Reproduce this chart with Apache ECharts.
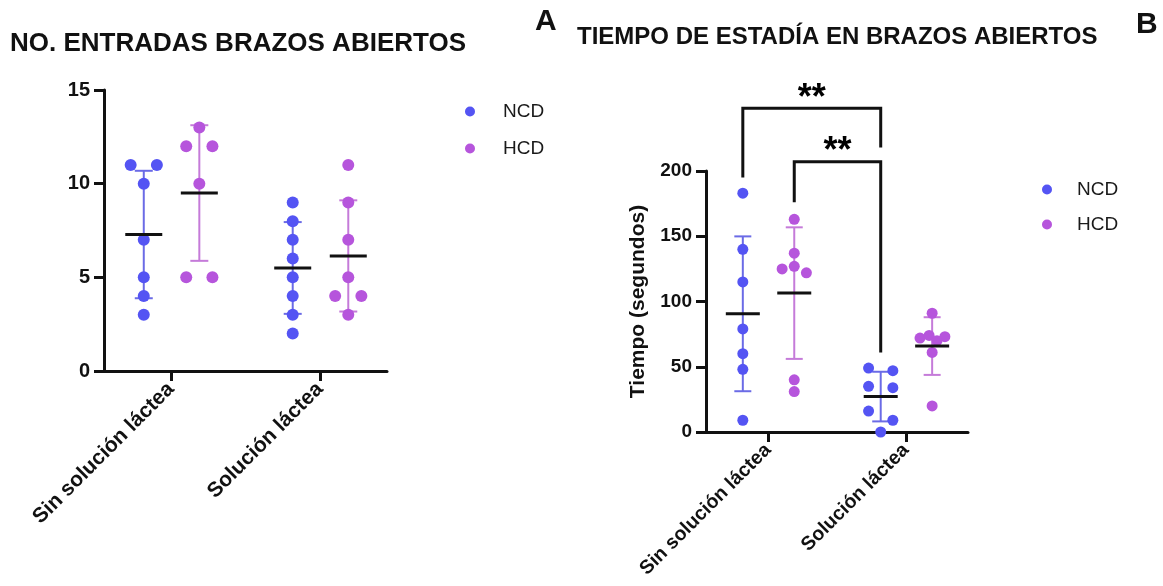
<!DOCTYPE html>
<html>
<head>
<meta charset="utf-8">
<script src="https://cdn.jsdelivr.net/npm/echarts@6/dist/echarts.min.js"></script>
<style>
  html, body { margin: 0; background: #fff; }
  #chart { width: 1163px; height: 586px; }
</style>
</head>
<body>
<div id="chart"></div>
<script>
// ---- data ----
const categories = ['Sin solución láctea', 'Solución láctea']
const groupNames = ['NCD', 'HCD']
const titleA = 'NO. ENTRADAS BRAZOS ABIERTOS'
const titleB = 'TIEMPO DE ESTADÍA EN BRAZOS ABIERTOS'
const yNameB = 'Tiempo (segundos)'
const yTicksA = [0, 5, 10, 15]
const yTicksB = [0, 50, 100, 150, 200]

// one inner array per category
const entradasNCD = [[11, 11, 10, 7, 5, 4, 3], [9, 8, 7, 6, 5, 4, 3, 2]]
const entradasHCD = [[13, 12, 12, 10, 5, 5], [11, 9, 7, 5, 4, 4, 3]]
const tiempoNCD = [[183, 140, 115, 79, 60, 48, 9], [49, 47, 35, 34, 16, 9, 0]]
const tiempoHCD = [[163, 137, 127, 125, 122, 40, 31], [91, 72, 74, 73, 70, 61, 20]]

// significance brackets in panel B: [category, group] -> [category, group]
const sigLabels = ['**', '**']
const sigFrom = [[0, 0], [0, 1]]
const sigTo = [[1, 0], [1, 0]]

// ---- layout only ----
const FONT = 'Liberation Sans, Arial, sans-serif'
const groupOffset = [-0.183, 0.19]
const jitterStep = 0.088
const jitterA = {
  NCD: [[-1, 1, 0, 0, 0, 0, 0], [0, 0, 0, 0, 0, 0, 0, 0]],
  HCD: [[0, -1, 1, 0, -1, 1], [0, 0, 0, 0, -1, 1, 0]]
}
const jitterB = {
  NCD: [[0, 0, 0, 0, 0, 0, 0], [-1, 1, -1, 1, -1, 1, 0]],
  HCD: [[0, 0, 0, -1, 1, 0, 0], [0, -1, -0.25, 1.05, 0.4, 0, 0]]
}
const bracketTop = [248, 207]
const bracketFootFrom = [195, 176]
const bracketFootTo = [218, 61]

const dotColors = ['#5454f3', '#b655dc']
const barColors = ['#6b6be6', '#c57bd9']

const mean = (a) => a.reduce((s, v) => s + v, 0) / a.length
const sd = (a) => {
  const m = mean(a)
  return Math.sqrt(a.reduce((s, v) => s + (v - m) * (v - m), 0) / (a.length - 1))
}

function panelSeries (axisIndex, ncd, hcd, jitter, symbolSize, meanHalf, capHalf) {
  const sets = [ncd, hcd]
  const bars = []
  const means = []
  const series = []
  sets.forEach((byCat, g) => {
    byCat.forEach((vals, c) => {
      const x = c + groupOffset[g]
      const m = mean(vals)
      const s = sd(vals)
      bars.push([x, m - s, m + s, g])
      means.push([x, m])
    })
  })

  series.push({
    type: 'custom',
    name: 'sd' + axisIndex,
    xAxisIndex: axisIndex,
    yAxisIndex: axisIndex,
    z: 1,
    silent: true,
    data: bars,
    encode: { x: 0, y: [1, 2] },
    renderItem: (params, api) => {
      const lo = api.coord([api.value(0), api.value(1)])
      const hi = api.coord([api.value(0), api.value(2)])
      const st = { stroke: barColors[api.value(3)], lineWidth: 2 }
      return {
        type: 'group',
        children: [
          { type: 'line', shape: { x1: lo[0], y1: lo[1], x2: hi[0], y2: hi[1] }, style: st },
          { type: 'line', shape: { x1: hi[0] - capHalf, y1: hi[1], x2: hi[0] + capHalf, y2: hi[1] }, style: st },
          { type: 'line', shape: { x1: lo[0] - capHalf, y1: lo[1], x2: lo[0] + capHalf, y2: lo[1] }, style: st }
        ]
      }
    }
  })

  sets.forEach((byCat, g) => {
    const jit = jitter[groupNames[g]]
    const pts = []
    byCat.forEach((vals, c) => {
      vals.forEach((v, i) => {
        pts.push([c + groupOffset[g] + jit[c][i] * jitterStep, v])
      })
    })
    series.push({
      type: 'scatter',
      name: groupNames[g],
      xAxisIndex: axisIndex,
      yAxisIndex: axisIndex,
      z: 2,
      symbolSize,
      itemStyle: { color: dotColors[g], opacity: 1 },
      data: pts
    })
  })

  series.push({
    type: 'custom',
    name: 'mean' + axisIndex,
    xAxisIndex: axisIndex,
    yAxisIndex: axisIndex,
    z: 3,
    silent: true,
    data: means,
    renderItem: (params, api) => {
      const p = api.coord([api.value(0), api.value(1)])
      return {
        type: 'line',
        shape: { x1: p[0] - meanHalf, y1: p[1], x2: p[0] + meanHalf, y2: p[1] },
        style: { stroke: '#111', lineWidth: 3 }
      }
    }
  })
  return series
}

function bracketSeries () {
  const series = []
  sigLabels.forEach((lab, k) => {
    const x1 = sigFrom[k][0] + groupOffset[sigFrom[k][1]]
    const x2 = sigTo[k][0] + groupOffset[sigTo[k][1]]
    series.push({
      type: 'line',
      name: 'sig' + k,
      xAxisIndex: 1,
      yAxisIndex: 1,
      clip: false,
      silent: true,
      symbol: 'none',
      z: 4,
      lineStyle: { color: '#111', width: 3, join: 'miter' },
      data: [[x1, bracketFootFrom[k]], [x1, bracketTop[k]], [x2, bracketTop[k]], [x2, bracketFootTo[k]]]
    })
    series.push({
      type: 'scatter',
      name: 'star' + k,
      xAxisIndex: 1,
      yAxisIndex: 1,
      clip: false,
      silent: true,
      symbolSize: 1,
      z: 5,
      itemStyle: { color: 'rgba(0,0,0,0)' },
      label: {
        show: true,
        position: 'top',
        distance: -9,
        formatter: lab,
        fontFamily: FONT,
        fontWeight: 'bold',
        fontSize: 36,
        color: '#000',
        opacity: 1,
        textBorderWidth: 0
      },
      labelLayout: { hideOverlap: false },
      data: [[(x1 + x2) / 2, bracketTop[k]]]
    })
  })
  return series
}

function xAxisOpt (gridIndex, fontSize) {
  return {
    type: 'value',
    gridIndex,
    min: -0.45,
    max: 1.45,
    splitLine: { show: false },
    axisLine: { onZero: false, lineStyle: { color: '#111', width: 3 } },
    axisTick: { customValues: [0, 1], length: 10, lineStyle: { color: '#111', width: 3 } },
    axisLabel: {
      customValues: [0, 1],
      formatter: (v) => categories[Math.round(v)],
      rotate: 45,
      margin: 15,
      fontFamily: FONT,
      fontWeight: 'bold',
      fontSize,
      color: '#111'
    }
  }
}

function yAxisOpt (gridIndex, ticks, fontSize) {
  return {
    type: 'value',
    gridIndex,
    min: ticks[0],
    max: ticks[ticks.length - 1],
    interval: ticks[1] - ticks[0],
    splitLine: { show: false },
    axisLine: { show: true, onZero: false, lineStyle: { color: '#111', width: 3 } },
    axisTick: { show: true, length: 10, lineStyle: { color: '#111', width: 3 } },
    axisLabel: { margin: 14, fontFamily: FONT, fontWeight: 'bold', fontSize, color: '#111' }
  }
}

const chart = echarts.init(document.getElementById('chart'))

const titleStyle = (size) => ({ fontFamily: FONT, fontWeight: 'bold', fontSize: size, color: '#111' })

const legendOpt = (left, top, gap, pad) => ({
  orient: 'vertical',
  left,
  top,
  icon: 'circle',
  itemWidth: 10,
  itemHeight: 10,
  itemGap: gap,
  data: groupNames,
  textStyle: { fontFamily: FONT, fontSize: 19, color: '#1a1a1a', lineHeight: 19, padding: [0, 0, 0, pad] }
})

const yB = yAxisOpt(1, yTicksB, 19)
yB.name = yNameB
yB.nameLocation = 'middle'
yB.nameRotate = 90
yB.nameGap = 57
yB.nameTextStyle = { fontFamily: FONT, fontWeight: 'bold', fontSize: 21, color: '#111' }

chart.setOption({
  backgroundColor: '#fff',
  animation: false,
  title: [
    { text: titleA, left: 10, top: 31, padding: 0, textStyle: titleStyle(26) },
    { text: 'A', left: 535, top: 7, padding: 0, textStyle: titleStyle(30) },
    { text: titleB, left: 577, top: 25, padding: 0, textStyle: titleStyle(24) },
    { text: 'B', left: 1136, top: 10, padding: 0, textStyle: titleStyle(30) }
  ],
  legend: [legendOpt(460, 97, 18, 23), legendOpt(1037, 175, 16, 20)],
  grid: [
    { left: 104, right: 776, top: 90, bottom: 215 },
    { left: 706, right: 195, top: 171, bottom: 154 }
  ],
  xAxis: [xAxisOpt(0, 21), xAxisOpt(1, 19.5)],
  yAxis: [yAxisOpt(0, yTicksA, 20), yB],
  series: [
    ...panelSeries(0, entradasNCD, entradasHCD, jitterA, 12, 18.5, 9),
    ...panelSeries(1, tiempoNCD, tiempoHCD, jitterB, 11, 17, 8.5),
    ...bracketSeries()
  ]
})
</script>
</body>
</html>
